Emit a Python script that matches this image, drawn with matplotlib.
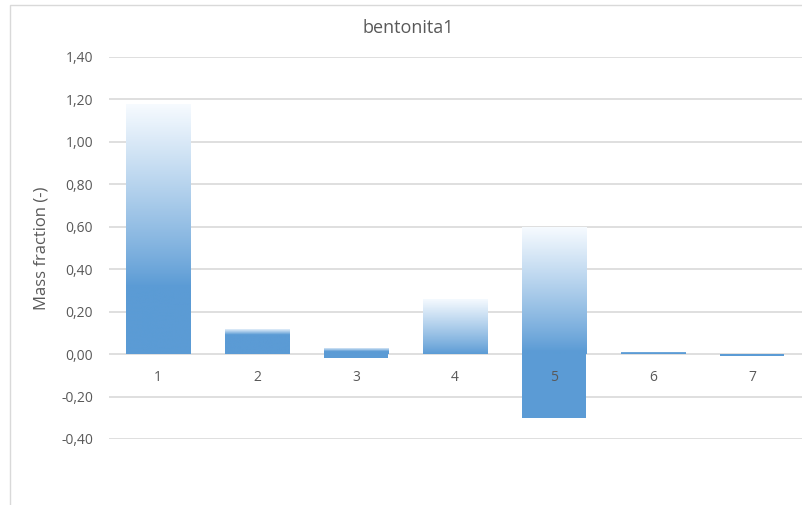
import numpy as np
import matplotlib.pyplot as plt
from matplotlib.colors import to_rgb
from matplotlib.patches import Rectangle

# column data: each column spans from bottom to top (mass fraction)
categories = ['1', '2', '3', '4', '5', '6', '7']
tops = [1.18, 0.12, 0.03, 0.26, 0.60, 0.01, 0.0]
bottoms = [0.0, 0.0, -0.02, 0.0, -0.30, 0.0, -0.01]
yticks = [-0.40, -0.20, 0.0, 0.20, 0.40, 0.60, 0.80, 1.00, 1.20, 1.40]

# where the fade to white starts, as fraction of the positive part of each column
fade_start = [0.27, 0.75, 0.4, 0.0, 0.02, 0.5, 0.5]

BLUE = '#5B9BD5'
GRID = '#d9d9d9'
TEXT = '#595959'

plt.rcParams['font.family'] = ['Open Sans', 'DejaVu Sans']


def gradient_image(start, n=256):
    t = np.linspace(0, 1, n)
    f = np.clip((t - start) / max(1 - start, 1e-6), 0, 1)
    f = f ** 0.9
    blue = np.array(to_rgb(BLUE))
    white = np.array([0.97, 0.985, 1.0])
    cols = blue[None, :] * (1 - f[:, None]) + white[None, :] * f[:, None]
    return cols[:, None, :]


fig = plt.figure(figsize=(8.02, 5.05), dpi=100)
fig.patches.append(Rectangle((10 / 802, -0.1), 2, 1.1 - 5 / 505, transform=fig.transFigure,
                             fill=False, edgecolor=GRID, linewidth=1))

ax = fig.add_axes([108.5 / 802, (505 - 439) / 505, 693 / 802, 382 / 505])
x = np.arange(len(categories))
width = 0.65

ax.set_ylim(-0.40, 1.40)
ax.set_xlim(-0.5, len(categories) - 0.5)
ax.set_yticks(yticks)
ax.set_yticklabels([f'{v:.2f}'.replace('.', ',') for v in yticks])
ax.yaxis.grid(True, color=GRID, linewidth=1.2)
ax.set_axisbelow(True)
for s in ax.spines.values():
    s.set_visible(False)
ax.tick_params(axis='y', length=0, pad=11, labelsize=10, labelcolor=TEXT)
ax.set_xticks([])

# negative parts are solid, positive parts fade towards white at the top
neg = [min(b, 0) for b in bottoms]
ax.bar(x, [0 - n for n in neg], width, bottom=neg, color=BLUE, zorder=2)
pos = ax.bar(x, [max(t, 0) for t in tops], width, bottom=0, color='none', zorder=2)
for i, bar in enumerate(pos):
    h = bar.get_height()
    if h <= 0:
        continue
    x0 = bar.get_x()
    im = ax.imshow(gradient_image(fade_start[i]), extent=(x0, x0 + width, 0, h),
                   origin='lower', aspect='auto', zorder=2, interpolation='bilinear')
    im.set_clip_path(bar)

for xi, lab in zip(x, categories):
    ax.annotate(lab, (xi, 0), xytext=(0, -17), textcoords='offset points',
                ha='center', va='center', fontsize=10, color=TEXT, zorder=5)

ax.set_ylabel('Mass fraction (-)', fontsize=12, color=TEXT)
ax.yaxis.set_label_coords(-59 / 693, 0.5)
fig.text(408 / 802, 1 - 28 / 505, 'bentonita1', ha='center', va='center',
         fontsize=13, color=TEXT)

fig.savefig('out.png', dpi=100)
